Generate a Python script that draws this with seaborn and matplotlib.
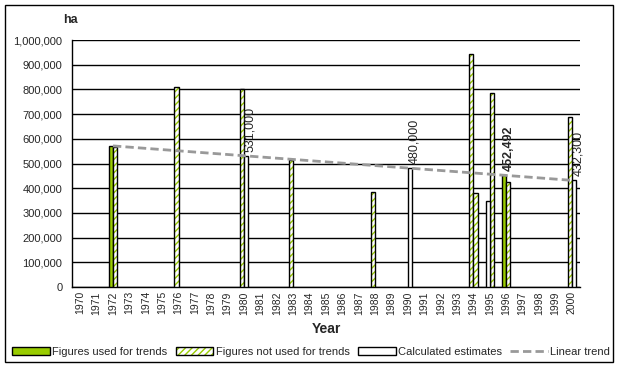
import numpy as np
import matplotlib
matplotlib.use("Agg")
import matplotlib.pyplot as plt
from matplotlib.patches import Patch, Rectangle
from matplotlib.lines import Line2D
from matplotlib.legend_handler import HandlerTuple
import seaborn as sns

# categories
years = list(range(1970, 2001))

# figures used for trends (green)
used_years = [1972, 1996]
used_vals = [572000, 452492]

# figures not used for trends (hatched) - first and second estimate in a year
notused_a_years = [1976, 1980, 1983, 1988, 1994, 2000]
notused_a_vals = [810000, 800000, 515000, 383000, 943000, 690000]
notused_b_years = [1972, 1994, 1995, 1996]
notused_b_vals = [568000, 380000, 785000, 425000]

# calculated estimates (white)
calc_a_years = [1995]
calc_a_vals = [348000]
calc_b_years = [1980, 1990, 2000]
calc_b_vals = [531000, 480000, 432300]

# values written on the bars
label_years = [1980, 1990, 1996, 2000]
label_vals = [531000, 480000, 452492, 432300]

sns.set_style("white")
plt.rcParams['font.family'] = ['Liberation Sans', 'DejaVu Sans']

GREEN = '#99CC00'
fig = plt.figure(figsize=(6.18, 3.67), dpi=100)
ax = fig.add_axes([72/618, 1-287/367, 508/618, 247/367])

idx = {y: i for i, y in enumerate(years)}
w = 0.25
off = {'a': -0.125, 'b': 0.125}


def xs(yrs, slot):
    return [idx[y] + off[slot] for y in yrs]


# green bars
ax.bar(xs(used_years, 'a'), used_vals, width=w, color=GREEN, edgecolor='black', lw=1, zorder=3)

# hatched bars: hatch layer in green, then black outline
for yrs, vals, slot in [(notused_a_years, notused_a_vals, 'a'), (notused_b_years, notused_b_vals, 'b')]:
    ax.bar(xs(yrs, slot), vals, width=w, color='white', edgecolor=GREEN, hatch='/////', lw=0, zorder=3)
    ax.bar(xs(yrs, slot), vals, width=w, color='none', edgecolor='black', lw=1, zorder=3)

# white bars
for yrs, vals, slot in [(calc_a_years, calc_a_vals, 'a'), (calc_b_years, calc_b_vals, 'b')]:
    ax.bar(xs(yrs, slot), vals, width=w, color='white', edgecolor='black', lw=1, zorder=3)

# linear trend fitted on the trend figures
trend_years = [1972, 1980, 1990, 1996, 2000]
trend_src = [572000, 531000, 480000, 452492, 432300]
k, b = np.polyfit(trend_years, trend_src, 1)
tx = np.array([1972, 2000])
sns.lineplot(x=[idx[y] for y in tx], y=k * tx + b, ax=ax, color='#999999', lw=2,
             zorder=4, legend=False)
ax.lines[-1].set_linestyle((0, (3, 1.5)))

# data labels
for yr, v in zip(label_years, label_vals):
    slot = 'a' if yr == 1996 else 'b'
    ax.annotate(f"{v:,}", (idx[yr] + off[slot] + 0.25, v), xytext=(0, 3), textcoords='offset points',
                rotation=90, ha='center', va='bottom', fontsize=9,
                fontweight='bold' if yr == 1996 else 'normal', zorder=5)

# axes
ax.set_xlim(-0.5, len(years) - 0.5)
ax.set_ylim(0, 1000000)
ax.set_yticks(np.arange(0, 1000001, 100000))
ax.set_yticklabels([f"{v:,}" for v in range(0, 1000001, 100000)], fontsize=8)
ax.yaxis.grid(True, color='black', lw=1)
ax.set_axisbelow(True)
ax.set_xticks(np.arange(len(years) + 1) - 0.5)
ax.set_xticklabels([])
ax.set_xticks(np.arange(len(years)), minor=True)
ax.set_xticklabels([str(y) for y in years], minor=True, rotation=90, fontsize=7.5)
ax.tick_params(axis='x', which='major', length=4, width=1, color='black', direction='out')
ax.tick_params(axis='x', which='minor', length=0, pad=3)
ax.tick_params(axis='y', length=5, width=1, color='black', direction='out', pad=2)
for s in ['top', 'right']:
    ax.spines[s].set_visible(False)
for s in ['left', 'bottom']:
    ax.spines[s].set_color('black')
    ax.spines[s].set_linewidth(1)
ax.set_xlabel('Year', fontsize=10, fontweight='bold', labelpad=5)
ax.set_ylabel('')
fig.text(70/618, 1-20/367, 'ha', ha='center', va='center', fontsize=9, fontweight='bold')

# legend
h_used = Patch(facecolor=GREEN, edgecolor='black', lw=1)
h_not = (Patch(facecolor='white', edgecolor=GREEN, hatch='/////', lw=0),
         Patch(facecolor='none', edgecolor='black', lw=1))
h_calc = Patch(facecolor='white', edgecolor='black', lw=1)
h_trend = Line2D([], [], color='#999999', lw=2, linestyle=(0, (3, 1.5)))
fig.legend([h_used, h_not, h_calc, h_trend],
           ['Figures used for trends', 'Figures not used for trends', 'Calculated estimates', 'Linear trend'],
           handler_map={tuple: HandlerTuple(ndivide=1, pad=0)},
           loc='center', bbox_to_anchor=(12/618, 1-352/367, 598/618, 0.001), mode='expand',
           ncol=4, frameon=False, fontsize=8, handlelength=3.4, handleheight=0.7,
           handletextpad=0.2, borderaxespad=0, borderpad=0)

fig.patches.append(Rectangle((5/618, 1-362/367), 608/618, 357/367, transform=fig.transFigure,
                             fill=False, edgecolor='black', lw=1))

fig.savefig('out.png', dpi=100)
